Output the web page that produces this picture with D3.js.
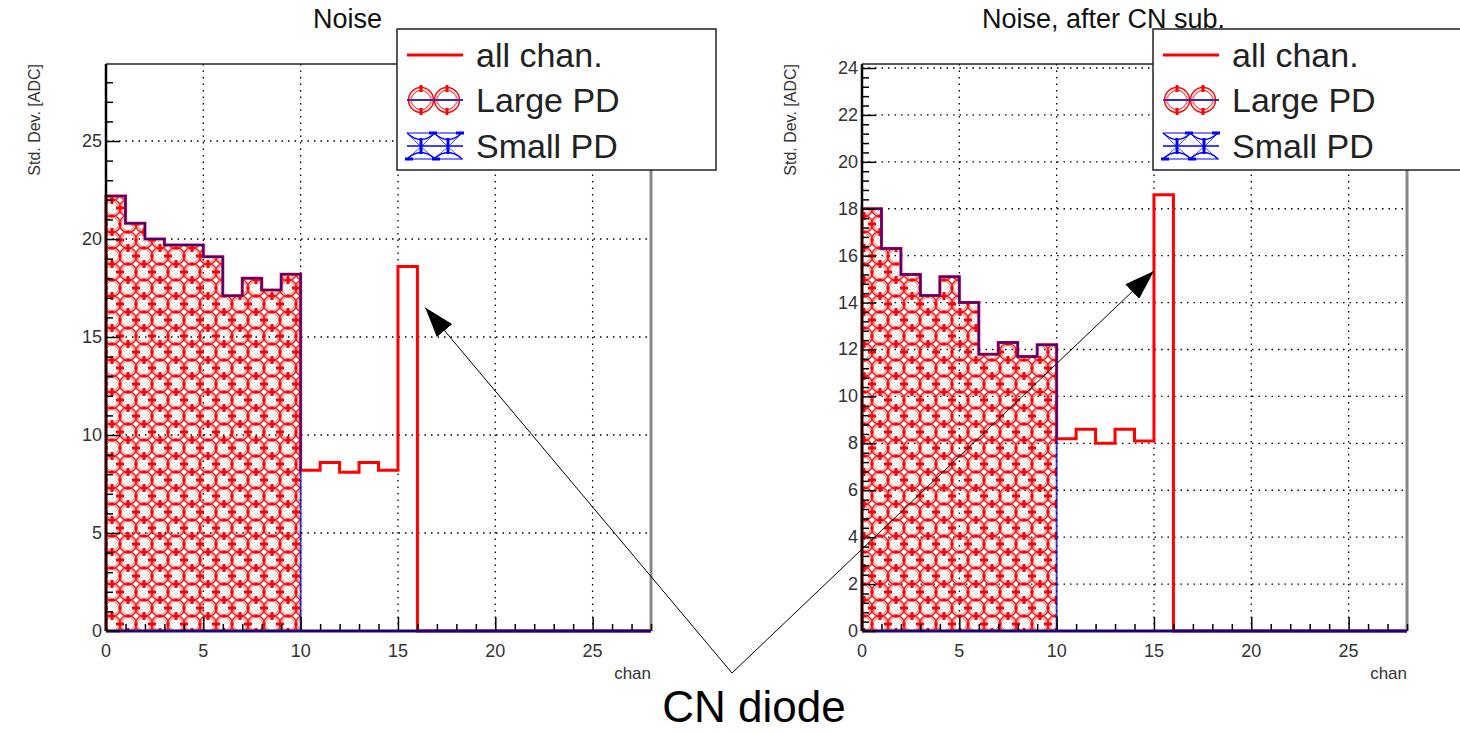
<!DOCTYPE html>
<html>
<head>
<meta charset="utf-8">
<script src="https://cdn.jsdelivr.net/npm/d3@7/dist/d3.min.js"></script>
<style>
  body { margin: 0; background: #fff; }
  text { font-family: "Liberation Sans", Arial, sans-serif; }
</style>
</head>
<body>
<script>
// channel bins 0..27, width 1
const nBins = 28;

// left pad: "Noise"
const noiseAll = [22.2, 20.8, 20.0, 19.7, 19.7, 19.1, 17.1, 18.0, 17.4, 18.2,
                  8.2, 8.6, 8.1, 8.6, 8.2, 18.6, 0, 0, 0, 0, 0, 0, 0, 0, 0, 0, 0, 0];
const noiseLarge = [22.2, 20.8, 20.0, 19.7, 19.7, 19.1, 17.1, 18.0, 17.4, 18.2,
                    0, 0, 0, 0, 0, 0, 0, 0, 0, 0, 0, 0, 0, 0, 0, 0, 0, 0];
const noiseSmall = [0, 0, 0, 0, 0, 0, 0, 0, 0, 0, 0, 0, 0, 0,
                    0, 0, 0, 0, 0, 0, 0, 0, 0, 0, 0, 0, 0, 0];

// right pad: "Noise, after CN sub."
const cnAll = [18.0, 16.3, 15.2, 14.3, 15.1, 14.0, 11.8, 12.3, 11.7, 12.2,
               8.2, 8.6, 8.0, 8.6, 8.1, 18.6, 0, 0, 0, 0, 0, 0, 0, 0, 0, 0, 0, 0];
const cnLarge = [18.0, 16.3, 15.2, 14.3, 15.1, 14.0, 11.8, 12.3, 11.7, 12.2,
                 0, 0, 0, 0, 0, 0, 0, 0, 0, 0, 0, 0, 0, 0, 0, 0, 0, 0];
const cnSmall = [0, 0, 0, 0, 0, 0, 0, 0, 0, 0, 0, 0, 0, 0,
                 0, 0, 0, 0, 0, 0, 0, 0, 0, 0, 0, 0, 0, 0];

const xTicks = [0, 5, 10, 15, 20, 25];
const legendLabels = ['all chan.', 'Large PD', 'Small PD'];

const pads = [
    {title: 'Noise', all: noiseAll, large: noiseLarge, small: noiseSmall,
     yMax: 28.93, yTicks: [0, 5, 10, 15, 20, 25], yMinor: 1,
     left: 106, legendX: 397, legendW: 319, arrowAt: [16.4, 16.5]},
    {title: 'Noise, after CN sub.', all: cnAll, large: cnLarge, small: cnSmall,
     yMax: 24.17, yTicks: [0, 2, 4, 6, 8, 10, 12, 14, 16, 18, 20, 22, 24], yMinor: 0.4,
     left: 862, legendX: 1153, legendW: 330, arrowAt: [15.0, 15.35]}
];

const plotW = 545, yTop = 64, yBottom = 631;

const svg = d3.select('body')
    .append('svg')
    .attr('width', 1460)
    .attr('height', 733);

// hatch pattern (ROOT style circles)
const defs = svg.append('defs');
function makePattern(id, color) {
    const p = defs.append('pattern')
        .attr('id', id)
        .attr('patternUnits', 'userSpaceOnUse')
        .attr('width', 32).attr('height', 32);
    const centers = [];
    [0, 16, 32].forEach(cx => [0, 16, 32].forEach(cy => centers.push([cx, cy])));
    centers.forEach(c => {
        p.append('circle').attr('cx', c[0]).attr('cy', c[1]).attr('r', 8.6)
            .attr('fill', 'none').attr('stroke', color).attr('stroke-width', 1.3);
        p.append('circle').attr('cx', c[0]).attr('cy', c[1]).attr('r', 6.6)
            .attr('fill', 'none').attr('stroke', color).attr('stroke-width', 0.9)
            .attr('stroke-opacity', 0.7);
    });
    [[8, 0], [24, 16], [8, 32]].forEach(c => {
        p.append('line').attr('x1', c[0] - 4).attr('x2', c[0] + 4)
            .attr('y1', c[1]).attr('y2', c[1])
            .attr('stroke', color).attr('stroke-width', 3);
    });
    [[16, 8], [0, 24], [32, 24]].forEach(c => {
        p.append('line').attr('x1', c[0]).attr('x2', c[0])
            .attr('y1', c[1] - 4).attr('y2', c[1] + 4)
            .attr('stroke', color).attr('stroke-width', 3);
    });
}
makePattern('hatchRed', '#ff0000');

const marker = defs.append('marker')
    .attr('id', 'arrowHead')
    .attr('viewBox', '0 0 30 20')
    .attr('refX', 30).attr('refY', 10)
    .attr('markerWidth', 30).attr('markerHeight', 20)
    .attr('markerUnits', 'userSpaceOnUse')
    .attr('orient', 'auto');
marker.append('path').attr('d', 'M0,0L30,10L0,20Z').attr('fill', '#000');

function stepPoints(vals) {
    const pts = [[0, 0]];
    vals.forEach((v, i) => pts.push([i, v]));
    pts.push([nBins, vals[nBins - 1]]);
    pts.push([nBins, 0]);
    return pts;
}

// legend swatches
function largeSymbol(g, cy) {
    [24, 50].forEach(cx => {
        g.append('circle').attr('cx', cx).attr('cy', cy).attr('r', 12.5)
            .attr('fill', 'none').attr('stroke', '#ff0000').attr('stroke-width', 1.4);
        g.append('circle').attr('cx', cx).attr('cy', cy).attr('r', 9.5)
            .attr('fill', 'none').attr('stroke', '#ff0000').attr('stroke-width', 1)
            .attr('stroke-opacity', 0.6);
        g.append('path')
            .attr('d', `M${cx - 12},${cy} Q${cx},${cy - 20} ${cx + 12},${cy} M${cx - 12},${cy} Q${cx},${cy + 20} ${cx + 12},${cy}`)
            .attr('fill', 'none').attr('stroke', '#ff0000').attr('stroke-width', 1).attr('stroke-opacity', 0.6);
        g.append('line').attr('x1', cx).attr('x2', cx).attr('y1', cy - 15).attr('y2', cy - 8)
            .attr('stroke', '#ff0000').attr('stroke-width', 3);
        g.append('line').attr('x1', cx).attr('x2', cx).attr('y1', cy + 8).attr('y2', cy + 15)
            .attr('stroke', '#ff0000').attr('stroke-width', 3);
    });
    g.append('line').attr('x1', 10).attr('x2', 66).attr('y1', cy).attr('y2', cy)
        .attr('stroke', '#3030b0').attr('stroke-width', 2);
}
function smallSymbol(g, cy) {
    const b = '#0000ff';
    g.append('line').attr('x1', 10).attr('x2', 66).attr('y1', cy - 13).attr('y2', cy - 13)
        .attr('stroke', b).attr('stroke-width', 1.2);
    g.append('line').attr('x1', 10).attr('x2', 66).attr('y1', cy + 13).attr('y2', cy + 13)
        .attr('stroke', b).attr('stroke-width', 1.2);
    [24, 51].forEach(cx => {
        g.append('path')
            .attr('d', `M${cx - 14},${cy - 13} Q${cx},${cy} ${cx + 14},${cy - 13} M${cx - 14},${cy + 13} Q${cx},${cy} ${cx + 14},${cy + 13}`)
            .attr('fill', 'none').attr('stroke', b).attr('stroke-width', 1.3);
        g.append('path')
            .attr('d', `M${cx - 14},${cy - 13} Q${cx - 2},${cy} ${cx + 14},${cy + 13} M${cx - 14},${cy + 13} Q${cx + 2},${cy} ${cx + 14},${cy - 13}`)
            .attr('fill', 'none').attr('stroke', b).attr('stroke-width', 1).attr('stroke-opacity', 0.7);
        g.append('line').attr('x1', cx).attr('x2', cx).attr('y1', cy - 8).attr('y2', cy + 8)
            .attr('stroke', b).attr('stroke-width', 3);
        g.append('line').attr('x1', cx + 8).attr('x2', cx + 16).attr('y1', cy - 13).attr('y2', cy - 13)
            .attr('stroke', b).attr('stroke-width', 3);
        g.append('line').attr('x1', cx - 16).attr('x2', cx - 8).attr('y1', cy + 13).attr('y2', cy + 13)
            .attr('stroke', b).attr('stroke-width', 3);
    });
    g.append('line').attr('x1', 10).attr('x2', 66).attr('y1', cy).attr('y2', cy)
        .attr('stroke', b).attr('stroke-width', 1.6);
}

pads.forEach(pad => {
    const x = d3.scaleLinear().domain([0, nBins]).range([pad.left, pad.left + plotW]);
    const y = d3.scaleLinear().domain([0, pad.yMax]).range([yBottom, yTop]);
    const g = svg.append('g');

    // grid
    g.selectAll('line.gx')
        .data(xTicks.filter(t => t > 0))
        .enter().append('line')
        .attr('x1', d => x(d)).attr('x2', d => x(d))
        .attr('y1', yTop).attr('y2', yBottom)
        .attr('stroke', '#000').attr('stroke-width', 1.3)
        .attr('stroke-dasharray', '1.5,5');
    g.selectAll('line.gy')
        .data(pad.yTicks.filter(t => t > 0))
        .enter().append('line')
        .attr('x1', x(0)).attr('x2', x(nBins))
        .attr('y1', d => y(d)).attr('y2', d => y(d))
        .attr('stroke', '#000').attr('stroke-width', 1.3)
        .attr('stroke-dasharray', '1.5,5');

    const area = d3.area()
        .curve(d3.curveStepAfter)
        .x((d, i) => x(i))
        .y0(y(0))
        .y1(d => y(d));
    const line = d3.line()
        .curve(d3.curveStepAfter)
        .x(d => x(d[0]))
        .y(d => y(d[1]));

    g.append('path')
        .attr('d', area(pad.large.concat([pad.large[nBins - 1]])))
        .attr('fill', 'url(#hatchRed)');
    g.append('path')
        .attr('d', line(stepPoints(pad.all)))
        .attr('fill', 'none').attr('stroke', '#ff0000').attr('stroke-width', 3);
    g.append('path')
        .attr('d', line(stepPoints(pad.large)))
        .attr('fill', 'none').attr('stroke', '#0000b0').attr('stroke-width', 2)
        .attr('stroke-opacity', 0.75);
    g.append('path')
        .attr('d', line(stepPoints(pad.small)))
        .attr('fill', 'none').attr('stroke', '#0000ff').attr('stroke-width', 2)
        .attr('stroke-opacity', 0.6);

    // frame top/right
    g.append('line').attr('x1', x(0)).attr('x2', x(nBins)).attr('y1', yTop).attr('y2', yTop)
        .attr('stroke', '#222').attr('stroke-width', 1.5);
    g.append('line').attr('x1', x(nBins)).attr('x2', x(nBins)).attr('y1', yTop).attr('y2', yBottom)
        .attr('stroke', '#888').attr('stroke-width', 3);

    // x axis, ticks inside
    const xAxis = g.append('g').attr('transform', `translate(0,${yBottom})`);
    xAxis.call(d3.axisBottom(x).tickValues(d3.range(0, nBins + 1)).tickSize(-7).tickFormat(''));
    xAxis.call(ax => ax.select('.domain').remove());
    xAxis.selectAll('.tick line')
        .attr('y2', d => d % 5 === 0 ? -14 : -7)
        .attr('stroke', '#000').attr('stroke-width', 1.5);
    g.append('line').attr('x1', x(0)).attr('x2', x(nBins)).attr('y1', yBottom).attr('y2', yBottom)
        .attr('stroke', '#200070').attr('stroke-width', 3);
    g.selectAll('text.xl')
        .data(xTicks)
        .enter().append('text')
        .attr('x', d => x(d)).attr('y', yBottom + 26)
        .attr('text-anchor', 'middle')
        .attr('font-size', 18).attr('fill', '#333')
        .text(d => d);
    g.append('text')
        .attr('x', x(nBins)).attr('y', yBottom + 48)
        .attr('text-anchor', 'end').attr('font-size', 17).attr('fill', '#333')
        .text('chan');

    // y axis, ticks inside
    const minors = d3.range(0, pad.yMax + 1e-9, pad.yMinor).map(v => +v.toFixed(2));
    const yAxis = g.append('g').attr('transform', `translate(${x(0)},0)`);
    yAxis.call(d3.axisRight(y).tickValues(minors).tickSize(7).tickFormat(''));
    yAxis.call(ax => ax.select('.domain').remove());
    yAxis.selectAll('.tick line')
        .attr('x2', d => pad.yTicks.some(t => Math.abs(t - d) < 1e-6) ? 14 : 7)
        .attr('stroke', '#000').attr('stroke-width', 1.5);
    g.append('line').attr('x1', x(0)).attr('x2', x(0)).attr('y1', yTop).attr('y2', yBottom)
        .attr('stroke', '#000').attr('stroke-width', 2.5);
    g.selectAll('text.yl')
        .data(pad.yTicks)
        .enter().append('text')
        .attr('x', x(0) - 4).attr('y', d => y(d) + 6)
        .attr('text-anchor', 'end')
        .attr('font-size', 18).attr('fill', '#333')
        .text(d => d);
    g.append('text')
        .attr('transform', `translate(${x(0) - 66},${yTop}) rotate(-90)`)
        .attr('text-anchor', 'end').attr('font-size', 16).attr('fill', '#333')
        .text('Std. Dev. [ADC]');

    // title
    g.append('text')
        .attr('x', x(0) + plotW / 2 - 31).attr('y', 28)
        .attr('text-anchor', 'middle').attr('font-size', 27).attr('fill', '#111')
        .text(pad.title);

    // legend
    const lg = g.append('g').attr('transform', `translate(${pad.legendX},29)`);
    lg.append('rect').attr('width', pad.legendW).attr('height', 141)
        .attr('fill', '#fff').attr('stroke', '#222').attr('stroke-width', 1.5);
    const rowY = [26, 71, 117];
    lg.append('line').attr('x1', 10).attr('x2', 66).attr('y1', rowY[0]).attr('y2', rowY[0])
        .attr('stroke', '#ff0000').attr('stroke-width', 3);
    largeSymbol(lg, rowY[1]);
    smallSymbol(lg, rowY[2]);
    lg.selectAll('text.lt')
        .data(legendLabels)
        .enter().append('text')
        .attr('x', 79).attr('y', (d, i) => rowY[i] + 12)
        .attr('font-size', 34).attr('fill', '#222')
        .text(d => d);

    pad.x = x;
    pad.y = y;
});

// annotation: CN diode arrows
const apex = [732, 673];
pads.forEach(pad => {
    svg.append('line')
        .attr('x1', apex[0]).attr('y1', apex[1])
        .attr('x2', pad.x(pad.arrowAt[0])).attr('y2', pad.y(pad.arrowAt[1]))
        .attr('stroke', '#000').attr('stroke-width', 1)
        .attr('marker-end', 'url(#arrowHead)');
});
svg.append('text')
    .attr('x', 754).attr('y', 722)
    .attr('text-anchor', 'middle').attr('font-size', 44).attr('fill', '#000')
    .text('CN diode');
</script>
</body>
</html>
